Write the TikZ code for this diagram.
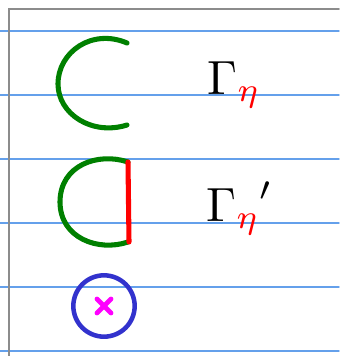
\documentclass[tikz,border=0pt]{standalone}
\usepackage{amsmath,amssymb}
\usepackage{graphicx}
\usepackage{xcolor}
\usepackage{tikz}
\usetikzlibrary{positioning,calc}

\definecolor{ruleblue}{RGB}{100,160,235}
\definecolor{margingray}{RGB}{140,140,140}
\definecolor{curvegreen}{RGB}{0,128,0}
\definecolor{ringblue}{RGB}{50,50,205}
\definecolor{polepink}{RGB}{255,0,255}
\newcommand{\bigsym}[1]{\scalebox{3.6}{#1}}

\begin{document}
\begin{tikzpicture}[x=0.75pt, y=-0.75pt, line cap=round,
    rule/.style={draw=ruleblue, line width=1pt},
    curve/.style={draw=curvegreen, line width=3.8pt},
    label/.style={inner sep=0pt}]
    \useasboundingbox (0,0) rectangle (339,356);
    % ruled paper
    \foreach \y in {31,95,159,223,287,351}
        \path [rule] (0,\y) -- (339,\y);
    \path [draw=margingray, line width=1.3pt] (339,9) -- (9,9) -- (9,356);
    % open contour
    \path [curve] (127,43) .. controls (92,28) and (58,52) .. (58,84)
        .. controls (58,114) and (92,136) .. (127,125);
    \node [label, anchor=base west] (gamma) at (207,94) {\bigsym{$\Gamma_{\textcolor{red}{\eta}}$}};
    % closed contour
    \path [curve] (128,162) .. controls (98,152) and (60,165) .. (60,202)
        .. controls (60,238) and (98,252) .. (128,242);
    \path [draw=red, line width=3.8pt] (128,162) -- (129,242);
    \node [label, anchor=base west] (gammaprime) at (206,221) {\bigsym{${\Gamma_{\textcolor{red}{\eta}}}'$}};
    % pole
    \node [draw=ringblue, circle, line width=3.4pt, minimum size=46pt] (ring) at (104,306) {};
    \path [draw=polepink, line width=3.6pt] ($(ring.center)+(-7,-7)$) -- ($(ring.center)+(7,7)$)
        ($(ring.center)+(-7,7)$) -- ($(ring.center)+(7,-7)$);
\end{tikzpicture}
\end{document}
